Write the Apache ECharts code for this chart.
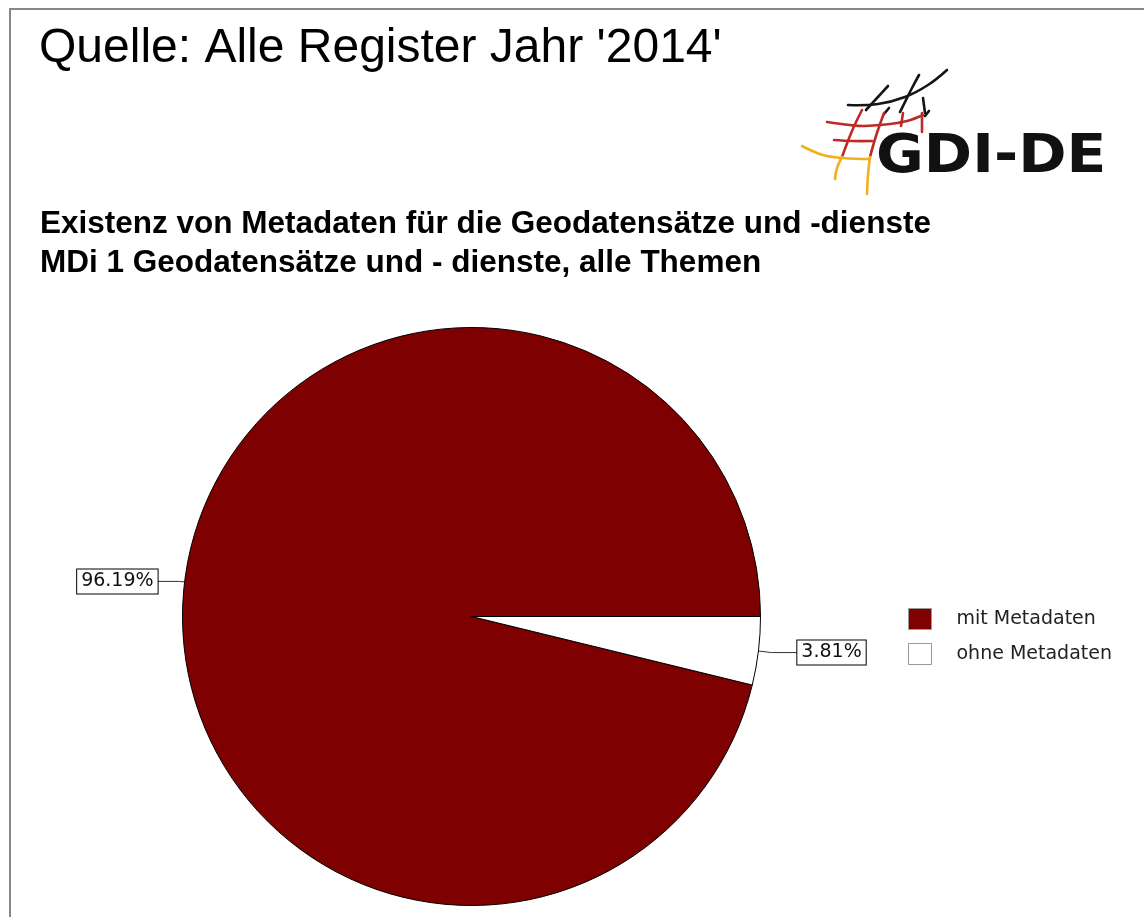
<!DOCTYPE html>
<html>
<head>
<meta charset="utf-8">
<script src="https://cdn.jsdelivr.net/npm/echarts@6/dist/echarts.min.js"></script>
<style>
  html, body { margin: 0; padding: 0; background: #fff; }
  #chart { width: 1144px; height: 917px; }
</style>
</head>
<body>
<div id="chart"></div>
<script>
// Anteil der Geodatensätze und -dienste mit / ohne Metadaten (in Prozent)
const categories = ['mit Metadaten', 'ohne Metadaten'];
const shares = [96.19, 3.81];
const sliceColors = ['#7f0000', '#ffffff'];

const headline = "Quelle: Alle Register Jahr '2014'";
const chartTitle = 'Existenz von Metadaten für die Geodatensätze und -dienste\nMDi 1 Geodatensätze und - dienste, alle Themen';

const chart = echarts.init(document.getElementById('chart'), null, { renderer: 'canvas' });

// Leader lines: short kink for the large slice, longer reach for the small one
const leader = [
  { length: 5, length2: 22 },
  { length: 13, length2: 26 }
];

const pieData = categories.map((name, i) => ({
  name,
  value: shares[i],
  itemStyle: { color: sliceColors[i] },
  labelLine: leader[i]
}));

// GDI-DE logo strokes (grid of curved lines in black / red / gold)
const logoBlack = '#151515', logoRed = '#be2a26', logoGold = '#f2b01e';
function stroke(points, color, width) {
  return {
    type: 'polyline',
    shape: { points, smooth: 0.4 },
    style: { stroke: color, lineWidth: width || 2.6, fill: null, lineCap: 'round' },
    silent: true
  };
}

const logo = [
  // black upper arc and strokes
  stroke([[848, 105], [878, 104], [905, 97], [928, 85], [947, 70]], logoBlack),
  stroke([[888, 86], [877, 98], [866, 110]], logoBlack),
  stroke([[919, 75], [912, 88], [904, 104], [900, 112]], logoBlack),
  stroke([[923, 98], [925, 113]], logoBlack),
  stroke([[889, 108], [884, 114]], logoBlack),
  stroke([[929, 111], [925, 116]], logoBlack),
  // red horizontals
  stroke([[827, 122], [850, 125], [864, 126], [890, 124], [907, 121], [923, 115]], logoRed),
  stroke([[834, 140], [852, 141], [872, 141]], logoRed),
  // red verticals
  stroke([[862, 110], [852, 131], [842, 157]], logoRed),
  stroke([[884, 113], [876, 136], [870, 157]], logoRed),
  stroke([[903, 113], [901, 126]], logoRed),
  stroke([[922, 113], [922, 132]], logoRed),
  // gold horizontal and vertical tails
  stroke([[802, 146], [823, 155], [843, 158], [870, 159]], logoGold),
  stroke([[842, 157], [837, 168], [835, 179]], logoGold),
  stroke([[870, 157], [868, 175], [867, 194]], logoGold),
  {
    type: 'text',
    x: 876,
    y: 132,
    scaleX: 1.1,
    originX: 0,
    style: {
      text: 'GDI-DE',
      fill: '#111',
      font: 'bold 53px "DejaVu Sans"',
      textVerticalAlign: 'top'
    },
    silent: true
  }
];

chart.setOption({
  backgroundColor: '#ffffff',
  animation: false,
  title: [
    {
      text: headline,
      left: 39,
      top: 25,
      padding: 0,
      textStyle: {
        fontFamily: '"Liberation Sans", Arial, sans-serif',
        fontSize: 48,
        fontWeight: 'normal',
        color: '#000',
        lineHeight: 48
      }
    },
    {
      text: chartTitle,
      left: 40,
      top: 205,
      padding: 0,
      textStyle: {
        fontFamily: '"Liberation Sans", Arial, sans-serif',
        fontSize: 31.5,
        fontWeight: 'bold',
        color: '#000',
        lineHeight: 39
      }
    }
  ],
  legend: {
    orient: 'vertical',
    left: 908,
    top: 608,
    padding: 0,
    icon: 'rect',
    itemWidth: 23,
    itemHeight: 21,
    itemGap: 13,
    data: categories,
    itemStyle: { borderColor: '#999', borderWidth: 1 },
    textStyle: {
      fontFamily: '"DejaVu Sans", sans-serif',
      fontSize: 19,
      color: '#222',
      padding: [4, 0, 0, 20]
    }
  },
  graphic: [
    {
      type: 'rect',
      shape: { x: 10, y: 9, width: 1200, height: 1000 },
      style: { fill: null, stroke: '#888', lineWidth: 2 },
      silent: true,
      z: -1
    },
    ...logo
  ],
  series: [
    {
      type: 'pie',
      center: [471.5, 616.5],
      radius: 289,
      startAngle: 360 * shares[0] / 100,
      clockwise: true,
      avoidLabelOverlap: false,
      itemStyle: { borderColor: '#000', borderWidth: 1 },
      emphasis: { disabled: true },
      label: {
        show: true,
        position: 'outside',
        formatter: p => p.value.toFixed(2) + '%',
        fontFamily: '"DejaVu Sans", sans-serif',
        fontSize: 19,
        color: '#111',
        backgroundColor: '#fff',
        borderColor: '#000',
        borderWidth: 1,
        padding: [3, 4, 2, 4],
        distanceToLabelLine: 0
      },
      labelLine: {
        show: true,
        lineStyle: { color: '#333', width: 1 }
      },
      data: pieData
    }
  ]
});
</script>
</body>
</html>
